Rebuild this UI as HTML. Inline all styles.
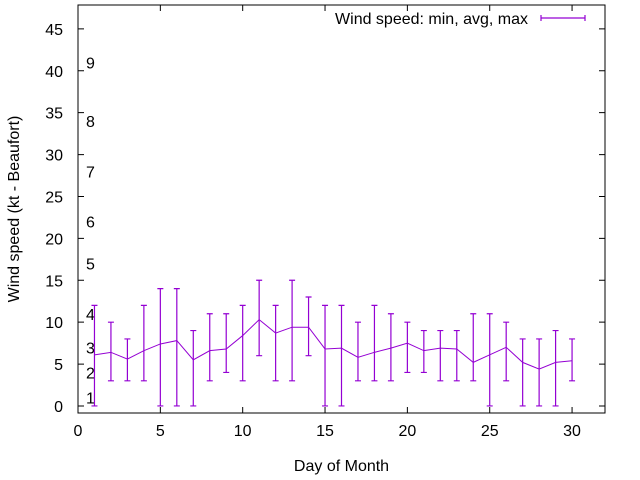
<!DOCTYPE html>
<html><head><meta charset="utf-8"><style>body{margin:0;background:#fff}svg{display:block;font-family:"Liberation Sans",sans-serif}</style></head>
<body>
<svg id="chart" width="640" height="480" viewBox="0 0 640 480"></svg>
<script>
const days=[1,2,3,4,5,6,7,8,9,10,11,12,13,14,15,16,17,18,19,20,21,22,23,24,25,26,27,28,29,30];
const avgVals=[6.1,6.4,5.6,6.6,7.4,7.8,5.5,6.6,6.8,8.4,10.3,8.7,9.4,9.4,6.8,6.9,5.8,6.4,6.9,7.5,6.6,6.9,6.8,5.2,6.1,7.0,5.2,4.4,5.2,5.4];
const minVals=[0,3,3,3,0,0,0,3,4,3,6,3,3,6,0,0,3,3,3,4,4,3,3,3,0,3,0,0,0,3];
const maxVals=[12,10,8,12,14,14,9,11,11,12,15,12,15,13,12,12,10,12,11,10,9,9,9,11,11,10,8,8,9,8];
const xTicks=[0,5,10,15,20,25,30];
const yTicks=[0,5,10,15,20,25,30,35,40,45];
const beaufortLabels=["1","2","3","4","5","6","7","8","9"];
const beaufortVals=[1,4,7,11,17,22,28,34,41];
const L=78,R=605,T=5,B=413,XMIN=0,XMAX=32,YMIN=-0.84,YMAX=47.85;
const sx=v=>L+(v-XMIN)/(XMAX-XMIN)*(R-L);
const sy=v=>B-(v-YMIN)/(YMAX-YMIN)*(B-T);
const svg=document.getElementById('chart');const NS='http://www.w3.org/2000/svg';
function mk(t,a,txt){const e=document.createElementNS(NS,t);for(const k in a)e.setAttribute(k,a[k]);if(txt!==undefined)e.textContent=txt;svg.appendChild(e);return e;}
let e=mk('rect',{x:L,y:T,width:R-L,height:B-T,fill:'none',stroke:'#000','stroke-width':1});


xTicks.forEach(v=>{const x=sx(v);
 let t=mk('path',{d:`M${x},${B}v-6M${x},${T}v6`,stroke:'#000'});
 
 
 let l=mk('text',{x:x,y:B+23,'text-anchor':'middle','font-size':16},v);
 
 });
yTicks.forEach(v=>{const y=sy(v);
 let t=mk('path',{d:`M${L},${y}h6M${R},${y}h-6`,stroke:'#000'});
 
 
 let l=mk('text',{x:L-15,y:y+6,'text-anchor':'end','font-size':16},v);
 
 });
beaufortLabels.forEach((s,i)=>{let l=mk('text',{x:86,y:sy(beaufortVals[i])+6,'font-size':16},s);
 
 });
const c='#9400d3';
days.forEach((d,i)=>{const x=sx(d),y1=sy(minVals[i]),y2=sy(maxVals[i]);
 let b=mk('path',{d:`M${x},${y1}V${y2}M${x-3},${y1}h6M${x-3},${y2}h6`,stroke:c,'stroke-width':1.2,fill:'none'});
 
 });
let p=mk('polyline',{points:days.map((d,i)=>sx(d)+','+sy(avgVals[i])).join(' '),fill:'none',stroke:c,'stroke-width':1});


let lt=mk('text',{x:528,y:24,'text-anchor':'end','font-size':16},'Wind speed: min, avg, max');


let ls=mk('path',{d:'M541,18H585M541,15v6M585,15v6',stroke:c,'stroke-width':1.2});


let xt=mk('text',{x:(L+R)/2,y:471,'text-anchor':'middle','font-size':16},'Day of Month');


let yt=mk('text',{x:0,y:0,'text-anchor':'middle','font-size':16,transform:`translate(19,${(T+B)/2}) rotate(-90)`},'Wind speed (kt - Beaufort)');


</script>
</body></html>
